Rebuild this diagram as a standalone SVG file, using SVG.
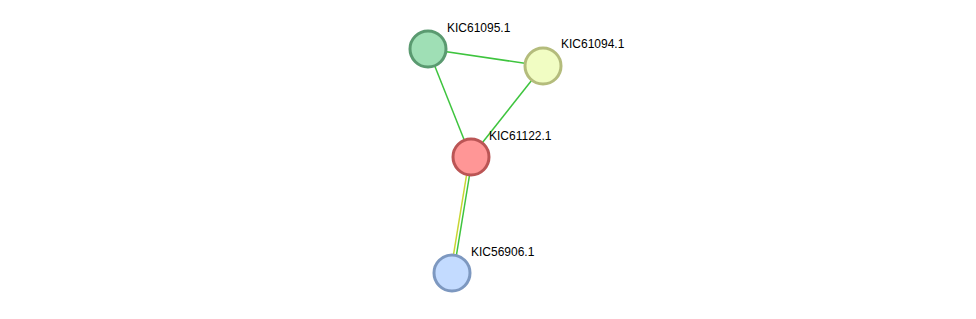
<svg xmlns="http://www.w3.org/2000/svg" width="976" height="319" viewBox="0 0 976 319">
<style>
.e{stroke:#3ec43e;stroke-width:1.5;fill:none}
.y{stroke:#c8d632;stroke-width:1.5;fill:none}
.n{stroke-width:3}
text{font-family:"Liberation Sans",Arial,sans-serif;font-size:12px;fill:#000}
</style>
<rect width="976" height="319" fill="#fff"/>
<g id="edges">
<line class="e" x1="428" y1="49" x2="543" y2="66"/>
<line class="e" x1="428" y1="49" x2="471" y2="157"/>
<line class="e" x1="543" y1="66" x2="471" y2="157"/>
<line class="y" x1="469.5" y1="157" x2="450.5" y2="273"/>
<line class="e" x1="472.5" y1="157" x2="453.5" y2="273"/>
</g>
<g id="KIC61095.1">
<circle class="n" cx="428" cy="49" r="18" fill="#9fdfb5" stroke="#5a9a70"/>
<text x="447" y="32">KIC61095.1</text>
</g>
<g id="KIC61094.1">
<circle class="n" cx="543" cy="66" r="18" fill="#f1fdc3" stroke="#b4bc7c"/>
<text x="561" y="48">KIC61094.1</text>
</g>
<g id="KIC61122.1">
<circle class="n" cx="471" cy="157" r="18" fill="#ff9696" stroke="#bb5555"/>
<text x="489" y="140">KIC61122.1</text>
</g>
<g id="KIC56906.1">
<circle class="n" cx="452" cy="273" r="18" fill="#c3dbff" stroke="#7d98c0"/>
<text x="471" y="256">KIC56906.1</text>
</g>
</svg>
